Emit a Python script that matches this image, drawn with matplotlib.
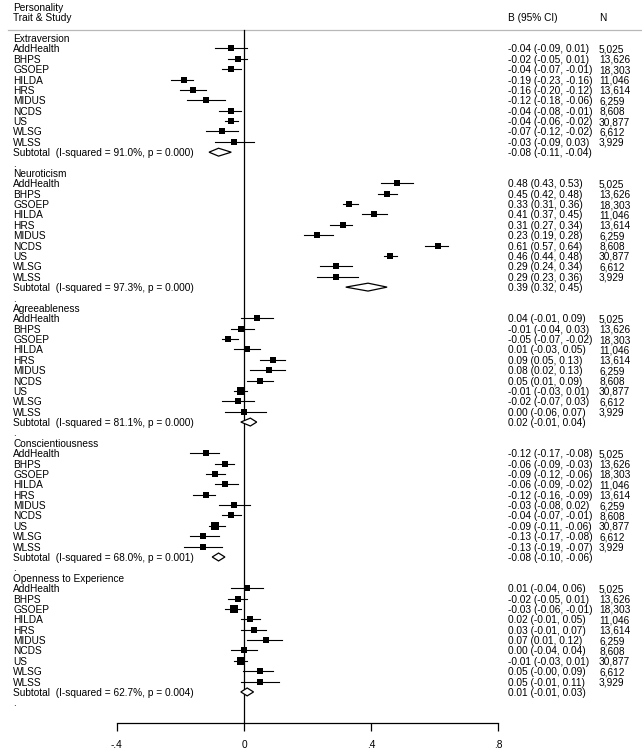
import numpy as np
import matplotlib
matplotlib.use("Agg")
import matplotlib.pyplot as plt
from matplotlib.transforms import blended_transform_factory

# ---- data ----
traits = ["Extraversion", "Neuroticism", "Agreeableness",
          "Conscientiousness", "Openness to Experience"]
studies = ["AddHealth", "BHPS", "GSOEP", "HILDA", "HRS",
           "MIDUS", "NCDS", "US", "WLSG", "WLSS"]
sample_n = [5025, 13626, 18303, 11046, 13614, 6259, 8608, 30877, 6612, 3929]

est = {
    "Extraversion":      [-0.04, -0.02, -0.04, -0.19, -0.16, -0.12, -0.04, -0.04, -0.07, -0.03],
    "Neuroticism":       [0.48, 0.45, 0.33, 0.41, 0.31, 0.23, 0.61, 0.46, 0.29, 0.29],
    "Agreeableness":     [0.04, -0.01, -0.05, 0.01, 0.09, 0.08, 0.05, -0.01, -0.02, 0.00],
    "Conscientiousness": [-0.12, -0.06, -0.09, -0.06, -0.12, -0.03, -0.04, -0.09, -0.13, -0.13],
    "Openness to Experience": [0.01, -0.02, -0.03, 0.02, 0.03, 0.07, 0.00, -0.01, 0.05, 0.05],
}
lower = {
    "Extraversion":      [-0.09, -0.05, -0.07, -0.23, -0.20, -0.18, -0.08, -0.06, -0.12, -0.09],
    "Neuroticism":       [0.43, 0.42, 0.31, 0.37, 0.27, 0.19, 0.57, 0.44, 0.24, 0.23],
    "Agreeableness":     [-0.01, -0.04, -0.07, -0.03, 0.05, 0.02, 0.01, -0.03, -0.07, -0.06],
    "Conscientiousness": [-0.17, -0.09, -0.12, -0.09, -0.16, -0.08, -0.07, -0.11, -0.17, -0.19],
    "Openness to Experience": [-0.04, -0.05, -0.06, -0.01, -0.01, 0.01, -0.04, -0.03, -0.004, -0.01],
}
upper = {
    "Extraversion":      [0.01, 0.01, -0.01, -0.16, -0.12, -0.06, -0.01, -0.02, -0.02, 0.03],
    "Neuroticism":       [0.53, 0.48, 0.36, 0.45, 0.34, 0.28, 0.64, 0.48, 0.34, 0.36],
    "Agreeableness":     [0.09, 0.03, -0.02, 0.05, 0.13, 0.13, 0.09, 0.01, 0.03, 0.07],
    "Conscientiousness": [-0.08, -0.03, -0.06, -0.02, -0.09, 0.02, -0.01, -0.06, -0.08, -0.07],
    "Openness to Experience": [0.06, 0.01, -0.01, 0.05, 0.07, 0.12, 0.04, 0.01, 0.09, 0.11],
}
sub_est = [-0.08, 0.39, 0.02, -0.08, 0.01]
sub_lo = [-0.11, 0.32, -0.01, -0.10, -0.01]
sub_hi = [-0.04, 0.45, 0.04, -0.06, 0.03]
i_squared = [91.0, 97.3, 81.1, 68.0, 62.7]
p_het = ["0.000", "0.000", "0.000", "0.001", "0.004"]

x_ticks = [-0.4, 0, 0.4, 0.8]
x_ticklabels = ["-.4", "0", ".4", ".8"]


def fmt_ci(b, lo, hi):
    return f"{b:.2f} ({lo:.2f}, {hi:.2f})"


def re_weights(b, lo, hi):
    """DerSimonian-Laird random-effects weights (percent) for box sizes."""
    b = np.asarray(b)
    se = (np.asarray(hi) - np.asarray(lo)) / (2 * 1.96)
    se = np.maximum(se, 0.005)
    w = 1 / se**2
    ybar = np.sum(w * b) / np.sum(w)
    q = np.sum(w * (b - ybar) ** 2)
    tau2 = max(0.0, (q - (len(b) - 1)) / (np.sum(w) - np.sum(w**2) / np.sum(w)))
    wr = 1 / (se**2 + tau2)
    return 100 * wr / wr.sum()


plt.rcParams.update({"font.family": ["Liberation Sans", "DejaVu Sans"],
                     "font.size": 7.3})

W, H, DPI = 642, 750, 100
fig = plt.figure(figsize=(W / DPI, H / DPI), dpi=DPI)

# axes span the whole figure; x in effect units, y in row units
x0_px, scale_px = 244.0, 318.0
row0_px, row_px = 38.0, 10.38
ax = fig.add_axes([0, 0, 1, 1])
ax.set_xlim((0 - x0_px) / scale_px, (W - x0_px) / scale_px)
ax.set_ylim((H - row0_px) / row_px, (0 - row0_px) / row_px)

def px_row(py):
    return (py - row0_px) / row_px

for s in ["top", "left", "right"]:
    ax.spines[s].set_visible(False)
ax.yaxis.set_visible(False)
ax.spines["bottom"].set_position(("data", px_row(723)))
ax.spines["bottom"].set_bounds(x_ticks[0], x_ticks[-1])
ax.spines["bottom"].set_linewidth(0.9)
ax.set_xticks(x_ticks)
ax.set_xticklabels(x_ticklabels)
ax.tick_params(axis="x", direction="out", length=6, width=0.9, pad=6)

tr = blended_transform_factory(fig.transFigure, ax.transData)
lab_x, ci_x, n_x = 13 / W, 508 / W, 599 / W
VA = "center_baseline"

# header
ax.text(lab_x, px_row(7), "Personality", transform=tr, va=VA)
ax.text(lab_x, px_row(17), "Trait & Study", transform=tr, va=VA)
ax.text(ci_x, px_row(17), "B (95% CI)", transform=tr, va=VA)
ax.text(n_x, px_row(17), "N", transform=tr, va=VA)
ax.plot([0.012, 1.0], [px_row(30)] * 2, transform=tr, color="#b8b8b8", lw=0.9)

# null line
ax.plot([0, 0], [px_row(30), px_row(723)], color="black", lw=0.9)

for k, trait in enumerate(traits):
    base = 13 * k
    ax.text(lab_x, base, trait, transform=tr, va=VA)
    wts = re_weights(est[trait], lower[trait], upper[trait])
    for i, st in enumerate(studies):
        r = base + 1 + i
        b, lo, hi = est[trait][i], lower[trait][i], upper[trait][i]
        ax.text(lab_x, r, st, transform=tr, va=VA)
        ax.plot([lo, hi], [r, r], color="black", lw=0.8)
        ms = 4.6 * np.sqrt(wts[i] / 10.0)
        ax.plot(b, r, marker="s", color="black", ms=ms, mew=0)
        ax.text(ci_x, r, fmt_ci(b, lo, hi), transform=tr, va=VA)
        ax.text(n_x, r, f"{sample_n[i]:,}", transform=tr, va=VA)
    r = base + 11
    ax.text(lab_x, r, f"Subtotal  (I-squared = {i_squared[k]:.1f}%, p = {p_het[k]})",
            transform=tr, va=VA)
    hh = 0.38
    ax.fill([sub_lo[k], sub_est[k], sub_hi[k], sub_est[k]],
            [r, r - hh, r, r + hh], facecolor="white", edgecolor="black", lw=0.9,
            zorder=3)
    ax.text(ci_x, r, fmt_ci(sub_est[k], sub_lo[k], sub_hi[k]), transform=tr, va=VA)
    ax.text(lab_x, base + 12, ".", transform=tr, va=VA)

fig.savefig("out.png", dpi=DPI)
